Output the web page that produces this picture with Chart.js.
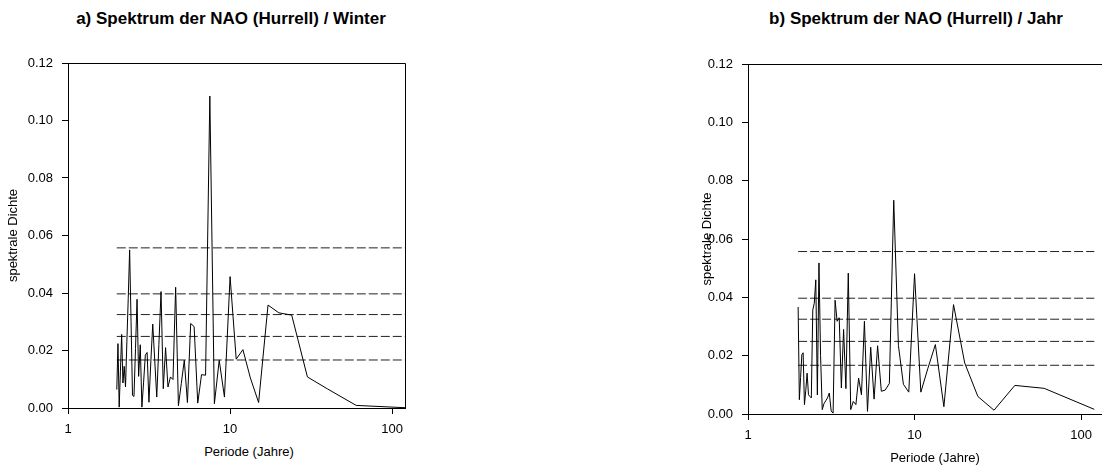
<!DOCTYPE html>
<html>
<head>
<meta charset="utf-8">
<script src="https://cdn.jsdelivr.net/npm/chart.js@4.4.1/dist/chart.umd.min.js"></script>
<style>
  body { margin: 0; width: 1102px; height: 468px; overflow: hidden; background: #fff; position: relative;
         font-family: "Liberation Sans", Arial, sans-serif; }
  canvas { position: absolute; top: 0; }
  .ttl { position: absolute; top: 9px; font-weight: bold; font-size: 17px; line-height: 20px;
         white-space: nowrap; transform: translateX(-50%); color: #000; }
  .xlab { position: absolute; top: 444px; font-size: 13px; line-height: 16px;
          white-space: nowrap; transform: translateX(-50%); color: #000; }
</style>
</head>
<body>
<div class="ttl" style="left:231px">a) Spektrum der NAO (Hurrell) / Winter</div>
<div class="ttl" style="left:916px">b) Spektrum der NAO (Hurrell) / Jahr</div>
<div class="xlab" style="left:249px">Periode (Jahre)</div>
<canvas id="chartA" width="440" height="468" style="left:0"></canvas>
<canvas id="chartB" width="440" height="468" style="left:690px"></canvas>
<script>
/* ---------- data ---------- */
// Perioden in Jahren (harmonics of a 120-year series)
const periods = [2.000, 2.034, 2.069, 2.105, 2.143, 2.182, 2.222, 2.264, 2.308, 2.353,
                 2.400, 2.449, 2.500, 2.553, 2.609, 2.667, 2.727, 2.791, 2.857, 2.927,
                 3.000, 3.077, 3.158, 3.243, 3.333, 3.429, 3.529, 3.636, 3.750, 3.871,
                 4.000, 4.138, 4.286, 4.444, 4.615, 4.800, 5.000, 5.217, 5.455, 5.714,
                 6.000, 6.316, 6.667, 7.059, 7.500, 8.000, 8.571, 9.231, 10.000, 10.909,
                 12.000, 13.333, 15.000, 17.143, 20.000, 24.000, 30.000, 40.000, 60.000, 120.000];

const densityWinter = [0.0064, 0.0224, 0.0003, 0.0126, 0.0256, 0.0087, 0.0145, 0.0073, 0.0230, 0.0380,
                       0.0550, 0.0300, 0.0044, 0.0040, 0.0207, 0.0378, 0.0110, 0.0220, 0.0003, 0.0090,
                       0.0184, 0.0193, 0.0020, 0.0160, 0.0292, 0.0165, 0.0038, 0.0220, 0.0405, 0.0067,
                       0.0210, 0.0073, 0.0108, 0.0099, 0.0420, 0.0008, 0.0085, 0.0166, 0.0019, 0.0294,
                       0.0283, 0.0017, 0.0116, 0.0114, 0.1085, 0.0015, 0.0166, 0.0038, 0.0457, 0.0170,
                       0.0203, 0.0105, 0.0019, 0.0358, 0.0331, 0.0323, 0.0108, 0.0066, 0.0009, 0.0001];

const densityYear = [0.0367, 0.0049, 0.0125, 0.0203, 0.0210, 0.0032, 0.0080, 0.0140, 0.0066, 0.0060,
                     0.0055, 0.0357, 0.0380, 0.0460, 0.0065, 0.0518, 0.0200, 0.0015, 0.0035, 0.0045,
                     0.0055, 0.0072, 0.0010, 0.0003, 0.0390, 0.0318, 0.0330, 0.0089, 0.0290, 0.0087,
                     0.0483, 0.0015, 0.0043, 0.0032, 0.0123, 0.0066, 0.0318, 0.0009, 0.0229, 0.0051,
                     0.0234, 0.0078, 0.0082, 0.0105, 0.0733, 0.0235, 0.0102, 0.0075, 0.0481, 0.0075,
                     0.0155, 0.0238, 0.0025, 0.0375, 0.0175, 0.0060, 0.0013, 0.0098, 0.0088, 0.0016];

// Signifikanzschranken (gestrichelt)
const levels = [0.0557, 0.0397, 0.0325, 0.0249, 0.0167];

const xTicks = [1, 10, 100];
const yTicks = [0, 0.02, 0.04, 0.06, 0.08, 0.10, 0.12];

/* ---------- helpers ---------- */
const FONT = 'Liberation Sans';

// top + right edge of the plot box
const framePlugin = {
  id: 'frame',
  afterDraw(chart) {
    const { ctx, chartArea: a } = chart;
    ctx.save();
    ctx.strokeStyle = '#000';
    ctx.lineWidth = 1;
    ctx.beginPath();
    ctx.moveTo(a.left, a.top + 0.5);
    ctx.lineTo(a.right + 0.5, a.top + 0.5);
    ctx.lineTo(a.right + 0.5, a.bottom);
    ctx.stroke();
    ctx.restore();
  }
};

function makeChart(id, values, geo) {
  const datasets = [{
    data: periods.map((p, i) => ({ x: p, y: values[i] })),
    borderColor: '#000', borderWidth: 1, pointRadius: 0, tension: 0
  }];
  levels.forEach(lv => datasets.push({
    data: [{ x: periods[0], y: lv }, { x: periods[periods.length - 1], y: lv }],
    borderColor: '#222', borderWidth: 1, borderDash: [9, 3], pointRadius: 0
  }));

  return new Chart(document.getElementById(id), {
    type: 'line',
    data: { datasets },
    plugins: [framePlugin],
    options: {
      responsive: false,
      animation: false,
      layout: { padding: { top: geo.top, right: geo.padRight, bottom: 0, left: 0 } },
      plugins: { legend: { display: false }, tooltip: { enabled: false } },
      scales: {
        x: {
          type: 'logarithmic', min: 1, max: geo.xMax,
          afterBuildTicks: s => { s.ticks = xTicks.map(v => ({ value: v })); },
          afterFit: s => { s.height = geo.xHeight; },
          ticks: { callback: v => String(v), autoSkip: false, maxRotation: 0, padding: 8,
                   color: '#000', font: { family: FONT, size: 13 } },
          grid: { drawOnChartArea: false, drawTicks: true, tickLength: 6, color: '#000' },
          border: { display: true, color: '#000', width: 1 },
          title: { display: geo.xTitle, text: 'Periode (Jahre)', color: '#000',
                   font: { family: FONT, size: 13 }, padding: { top: 0, bottom: geo.xTitlePad } }
        },
        y: {
          min: 0, max: 0.12,
          afterBuildTicks: s => { s.ticks = yTicks.map(v => ({ value: v })); },
          afterFit: s => { s.width = geo.yWidth; },
          ticks: { callback: v => v.toFixed(2), padding: 9,
                   color: '#000', font: { family: FONT, size: 13 } },
          grid: { drawOnChartArea: false, drawTicks: true, tickLength: 6, color: '#000' },
          border: { display: true, color: '#000', width: 1 },
          title: { display: true, text: 'spektrale Dichte', color: '#000',
                   font: { family: FONT, size: 13 }, padding: { top: geo.yTitlePad, bottom: 0 } }
        }
      }
    }
  });
}

// left panel: box ends at 120 years; right panel: box runs past the picture edge
makeChart('chartA', densityWinter, { top: 63, padRight: 35, xMax: 120, xHeight: 60, xTitle: false, xTitlePad: 8, yWidth: 68, yTitlePad: 6 });
makeChart('chartB', densityYear,   { top: 64, padRight: 8, xMax: 176, xHeight: 54, xTitle: true, xTitlePad: 2, yWidth: 58, yTitlePad: 10 });
</script>
</body>
</html>
